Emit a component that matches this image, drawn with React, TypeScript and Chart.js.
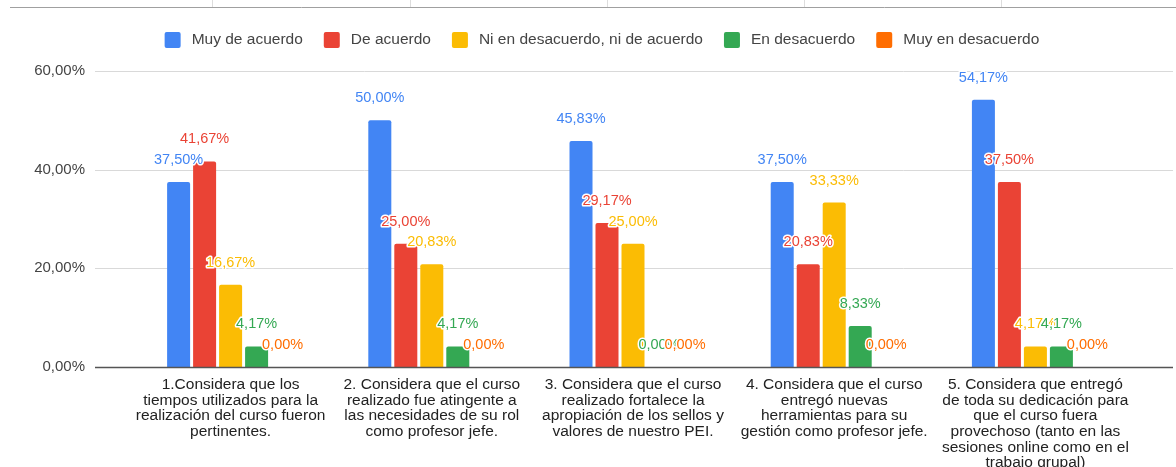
import React, { useEffect, useRef } from "react";
import { Chart, registerables } from "chart.js";

Chart.register(...registerables);

const categories: string[][] = [
  ["1.Considera que los", "tiempos utilizados para la", "realización del curso fueron", "pertinentes."],
  ["2. Considera que el curso", "realizado fue atingente a", "las necesidades de su rol", "como profesor jefe."],
  ["3. Considera que el curso", "realizado fortalece la", "apropiación de los sellos y", "valores de nuestro PEI."],
  ["4. Considera que el curso", "entregó nuevas", "herramientas para su", "gestión como profesor jefe."],
  ["5. Considera que entregó", "de toda su dedicación para", "que el curso fuera", "provechoso (tanto en las", "sesiones online como en el", "trabajo grupal)"],
];

const seriesNames = [
  "Muy de acuerdo",
  "De acuerdo",
  "Ni en desacuerdo, ni de acuerdo",
  "En desacuerdo",
  "Muy en desacuerdo",
];

const muyDeAcuerdo = [37.5, 50.0, 45.83, 37.5, 54.17];
const deAcuerdo = [41.67, 25.0, 29.17, 20.83, 37.5];
const niNi = [16.67, 20.83, 25.0, 33.33, 4.17];
const enDesacuerdo = [4.17, 4.17, 0.0, 8.33, 4.17];
const muyEnDesacuerdo = [0.0, 0.0, 0.0, 0.0, 0.0];

const seriesValues = [muyDeAcuerdo, deAcuerdo, niNi, enDesacuerdo, muyEnDesacuerdo];
const seriesColors = ["#4285F4", "#EA4335", "#FBBC04", "#34A853", "#FF6D01"];

const yTicks = [0, 20, 40, 60];

const FONT = '"Liberation Sans", Arial, sans-serif';
const fmt = (v: number) => v.toFixed(2).replace(".", ",") + "%";

const decorPlugin = {
  id: "decor",
  beforeDraw(chart: any) {
    const ctx = chart.ctx;
    ctx.save();
    ctx.fillStyle = "#ffffff";
    ctx.fillRect(0, 0, chart.width, chart.height);
    // spreadsheet top border line
    ctx.strokeStyle = "#a0a0a0";
    ctx.lineWidth = 1;
    ctx.beginPath();
    ctx.moveTo(10, 7.5);
    ctx.lineTo(chart.width, 7.5);
    ctx.stroke();
    ctx.strokeStyle = "#dddddd";
    [212, 410, 607, 804, 1001].forEach((x) => {
      ctx.beginPath();
      ctx.moveTo(x + 0.5, 0);
      ctx.lineTo(x + 0.5, 7);
      ctx.stroke();
    });
    ctx.restore();
  },
  beforeDatasetsDraw(chart: any) {
    const ctx = chart.ctx;
    const area = chart.chartArea;
    const y = chart.scales.y;
    const x0 = area.left - 35;
    const x1 = area.right + 37;
    ctx.save();
    yTicks.forEach((t) => {
      const py = Math.round(y.getPixelForValue(t));
      if (t === 0) return;
      ctx.strokeStyle = "#d9d9d9";
      ctx.lineWidth = 1;
      ctx.beginPath();
      ctx.moveTo(x0, py + 0.5);
      ctx.lineTo(x1, py + 0.5);
      ctx.stroke();
    });
    ctx.restore();
  },
  afterDatasetsDraw(chart: any) {
    const ctx = chart.ctx;
    const area = chart.chartArea;
    const y = chart.scales.y;
    const py = Math.round(y.getPixelForValue(0));
    ctx.save();
    ctx.strokeStyle = "#555555";
    ctx.lineWidth = 1.5;
    ctx.beginPath();
    ctx.moveTo(area.left - 35, py + 0.5);
    ctx.lineTo(area.right + 37, py + 0.5);
    ctx.stroke();
    // data labels
    ctx.font = `14.5px ${FONT}`;
    ctx.textAlign = "center";
    ctx.textBaseline = "middle";
    ctx.lineJoin = "round";
    chart.data.datasets.forEach((ds: any, di: number) => {
      const meta = chart.getDatasetMeta(di);
      meta.data.forEach((el: any, i: number) => {
        const v = ds.data[i];
        const text = fmt(v);
        const tx = el.x;
        const ty = el.y - 22;
        ctx.strokeStyle = "#ffffff";
        ctx.lineWidth = 3;
        ctx.strokeText(text, tx, ty);
        ctx.fillStyle = seriesColors[di];
        ctx.fillText(text, tx, ty);
      });
    });
    ctx.restore();
  },
  afterDraw(chart: any) {
    const ctx = chart.ctx;
    ctx.save();
    ctx.font = `15.5px ${FONT}`;
    const box = 16;
    const gapText = 11;
    const gapItem = 21;
    const widths = seriesNames.map((n) => ctx.measureText(n).width);
    const total = widths.reduce((a, w) => a + box + gapText + w, 0) + gapItem * (seriesNames.length - 1);
    let x = 602 - total / 2;
    const cy = 40;
    seriesNames.forEach((n, i) => {
      ctx.fillStyle = seriesColors[i];
      ctx.beginPath();
      if ((ctx as any).roundRect) (ctx as any).roundRect(x, cy - box / 2, box, box, 2);
      else ctx.rect(x, cy - box / 2, box, box);
      ctx.fill();
      ctx.fillStyle = "#444444";
      ctx.textAlign = "left";
      ctx.textBaseline = "middle";
      ctx.fillText(n, x + box + gapText, cy);
      x += box + gapText + widths[i] + gapItem;
    });
    ctx.restore();
  },
};

export default function App() {
  const ref = useRef<HTMLCanvasElement | null>(null);
  useEffect(() => {
    document.body.style.margin = "0";
    const canvas = ref.current;
    if (!canvas) return;
    const chart = new Chart(canvas, {
      type: "bar",
      data: {
        labels: categories,
        datasets: seriesNames.map((name, i) => ({
          label: name,
          data: seriesValues[i],
          backgroundColor: seriesColors[i],
          borderWidth: 0,
          borderRadius: { topLeft: 2, topRight: 2, bottomLeft: 0, bottomRight: 0 },
          borderSkipped: "start",
          categoryPercentage: 0.646,
          barPercentage: 0.885,
        })),
      },
      options: {
        animation: false,
        responsive: false,
        maintainAspectRatio: false,
        layout: { padding: { top: 71, right: 40, bottom: 0, left: 0 } },
        plugins: {
          legend: { display: false },
          tooltip: { enabled: false },
          title: { display: false },
        },
        scales: {
          x: {
            grid: { display: false, drawTicks: false },
            border: { display: false },
            ticks: {
              autoSkip: false,
              maxRotation: 0,
              minRotation: 0,
              padding: 10,
              color: "#222222",
              font: { family: FONT, size: 15.5, lineHeight: 1.01 },
            },
            afterFit: (s: any) => {
              s.height = 100;
            },
          },
          y: {
            min: 0,
            max: 60,
            grid: { display: false, drawTicks: false },
            border: { display: false },
            ticks: {
              stepSize: 20,
              padding: 45,
              color: "#444444",
              font: { family: FONT, size: 15 },
              callback: (v: any) => fmt(Number(v)),
            },
            afterFit: (s: any) => {
              s.width = 130;
            },
          },
        },
      },
      plugins: [decorPlugin],
    } as any);
    return () => chart.destroy();
  }, []);
  return (
    <div style={{ width: 1176, height: 467, overflow: "hidden" }}>
      <canvas ref={ref} width={1176} height={467} style={{ display: "block" }} />
    </div>
  );
}
